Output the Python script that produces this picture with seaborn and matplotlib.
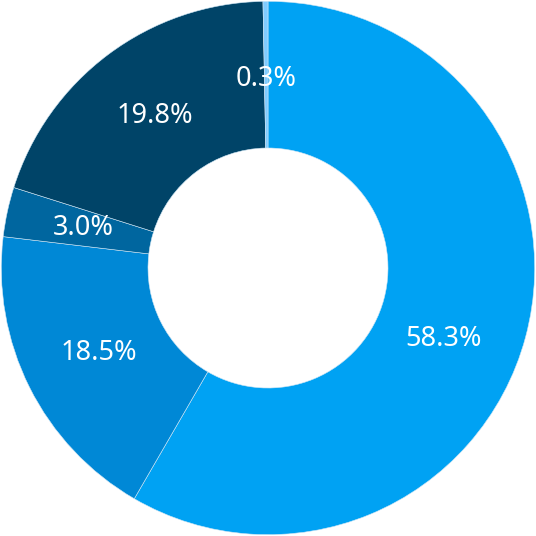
import matplotlib
matplotlib.use("Agg")
import numpy as np
import matplotlib.pyplot as plt
import seaborn as sns

labels = ["A", "B", "C", "D", "E"]
shares = [58.3, 18.5, 3.0, 19.8, 0.3]
colors = ["#00a2f3", "#0088d6", "#00669f", "#004468", "#80ccff"]

sns.set_theme(style="white")
plt.rcParams['font.family'] = ['Noto Sans', 'DejaVu Sans']

fig, ax = plt.subplots(figsize=(5.36, 5.36), dpi=100)
fig.subplots_adjust(left=0, right=1, top=1, bottom=0)

wedges, texts, autotexts = ax.pie(
    shares, colors=colors, startangle=90, counterclock=False,
    autopct='%1.1f%%', pctdistance=0.71, radius=1.0,
    wedgeprops=dict(width=0.55, edgecolor='#cfe6f5', linewidth=0.4),
    textprops=dict(color='white', fontsize=19.5))

# show the stated shares (they sum to 99.9)
for t, s in zip(autotexts, shares):
    t.set_text(f"{s:.1f}%")

# big slice label sits a bit lower in the original
ang = np.deg2rad(-22)
autotexts[0].set_position((0.71 * np.cos(ang), 0.71 * np.sin(ang)))

ax.set_aspect('equal')
ax.set_xlim(-1.005, 1.005)
ax.set_ylim(-1.005, 1.005)
ax.axis('off')

plt.savefig('out.png', dpi=100)
